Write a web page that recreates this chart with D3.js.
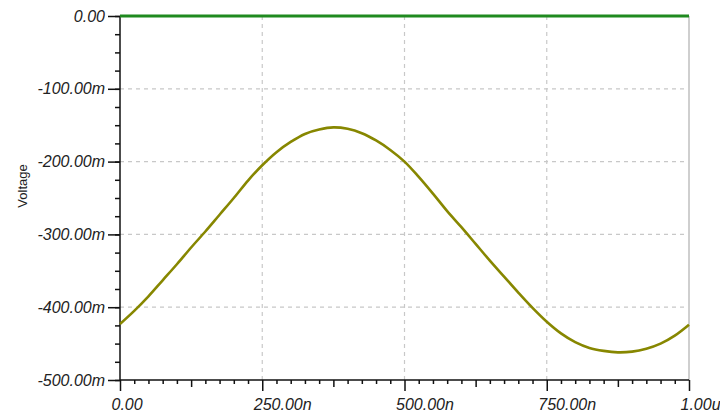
<!DOCTYPE html>
<html>
<head>
<meta charset="utf-8">
<script src="https://cdn.jsdelivr.net/npm/d3@7"></script>
<style>
  html, body { margin: 0; padding: 0; background: #fff; }
  svg { display: block; }
  text { font-family: "Liberation Sans", Arial, sans-serif; fill: #222; }
</style>
</head>
<body>
<svg id="chart" width="720" height="415"></svg>
<script>
// ---- data (time in ns, voltage in mV) ----
const timeNs = [0, 25, 50, 75, 100, 125, 150, 175, 200, 225, 250, 275, 300, 325, 350, 375,
  400, 425, 450, 475, 500, 525, 550, 575, 600, 625, 650, 675, 700, 725, 750, 775, 800,
  825, 850, 875, 900, 925, 950, 975, 1000];
const voltageMv = [-423, -405, -385, -363, -341, -318, -296, -273, -250, -226, -205, -187,
  -173, -162, -156, -153, -155, -161, -171, -184, -200, -221, -244, -268, -290, -313, -336,
  -358, -380, -401, -420, -436, -448, -456, -460, -462, -461, -457, -450, -439, -424];
const zeroTraceT = [0, 1000];
const zeroTraceV = [0, 0];
const yTicks = [0, -100, -200, -300, -400, -500];
const yTickLabels = ["0.00", "-100.00m", "-200.00m", "-300.00m", "-400.00m", "-500.00m"];
const xTicks = [0, 250, 500, 750, 1000];
const xTickLabels = ["0.00", "250.00n", "500.00n", "750.00n", "1.00u"];
const yAxisTitle = "Voltage";

// ---- layout ----
const svg = d3.select("#chart");
const L = 120, R = 689, T = 16, B = 380;
const x = d3.scaleLinear().domain([0, 1000]).range([L, R]);
const y = d3.scaleLinear().domain([-500, 0]).range([B, T]);

// grid
const g = svg.append("g");
g.selectAll("line.hg").data(yTicks.filter(v => v !== 0 && v !== -500)).enter()
  .append("line").attr("x1", L).attr("x2", R)
  .attr("y1", d => y(d)).attr("y2", d => y(d))
  .attr("stroke", "#c8c8c8").attr("stroke-width", 1.2).attr("stroke-dasharray", "4,4");
g.selectAll("line.vg").data(xTicks.filter(v => v !== 0 && v !== 1000)).enter()
  .append("line").attr("y1", T).attr("y2", B)
  .attr("x1", d => x(d)).attr("x2", d => x(d))
  .attr("stroke", "#c8c8c8").attr("stroke-width", 1.2).attr("stroke-dasharray", "4,4");
// right border
g.append("line").attr("x1", R).attr("x2", R).attr("y1", T).attr("y2", B)
  .attr("stroke", "#cfcfcf").attr("stroke-width", 2);

// y axis: minor ticks then majors
const yMinor = d3.range(-500, 1, 25);
const yAxisMinor = d3.axisLeft(y).tickValues(yMinor).tickSize(5).tickFormat("");
const yAx = svg.append("g").attr("transform", `translate(${L},0)`);
yAx.call(yAxisMinor);
yAx.select(".domain").remove();
const yAxisMajor = d3.axisLeft(y).tickValues(yTicks).tickSize(12).tickPadding(3)
  .tickFormat((d, i) => yTickLabels[i]);
const yAx2 = svg.append("g").attr("transform", `translate(${L},0)`).call(yAxisMajor);
yAx2.select(".domain").remove();
svg.selectAll("g.tick line").attr("stroke", "#111").attr("stroke-width", 1.5);
yAx2.selectAll("text").attr("font-size", 16).attr("font-style", "italic")
  .attr("font-family", "Liberation Sans, Arial, sans-serif").attr("fill", "#222");

// x axis
const xMinor = d3.range(0, 1001, 25).filter(v => v % 125 !== 0);
const xMid = d3.range(0, 1001, 125).filter(v => v % 250 !== 0);
const xAx = svg.append("g").attr("transform", `translate(0,${B})`);
xAx.call(d3.axisBottom(x).tickValues(xMinor).tickSize(4).tickFormat(""));
xAx.select(".domain").remove();
const xAxM = svg.append("g").attr("transform", `translate(0,${B})`);
xAxM.call(d3.axisBottom(x).tickValues(xMid).tickSize(7).tickFormat(""));
xAxM.select(".domain").remove();
const xAx2 = svg.append("g").attr("transform", `translate(0,${B})`);
xAx2.call(d3.axisBottom(x).tickValues(xTicks).tickSize(11).tickPadding(8)
  .tickFormat((d, i) => xTickLabels[i]));
xAx2.select(".domain").remove();
xAx2.selectAll("text").attr("font-size", 16).attr("font-style", "italic")
  .attr("text-anchor", "start").attr("x", -9)
  .attr("font-family", "Liberation Sans, Arial, sans-serif").attr("fill", "#222");
svg.selectAll("g.tick line").attr("stroke", "#111").attr("stroke-width", 1.5);

// axis lines
svg.append("line").attr("x1", L).attr("x2", L).attr("y1", T).attr("y2", B)
  .attr("stroke", "#111").attr("stroke-width", 1.5);
svg.append("line").attr("x1", L).attr("x2", R).attr("y1", B).attr("y2", B)
  .attr("stroke", "#111").attr("stroke-width", 1.5);

// y title
svg.append("text").attr("transform", `translate(27,186) rotate(-90)`)
  .attr("text-anchor", "middle").attr("font-size", 13).text(yAxisTitle);

// traces
const line = d3.line().x(d => x(d[0])).y(d => y(d[1]));
svg.append("path").datum(timeNs.map((t, i) => [t, voltageMv[i]]))
  .attr("d", line.curve(d3.curveCatmullRom)).attr("fill", "none")
  .attr("stroke", "#878700").attr("stroke-width", 2.6);
svg.append("path").datum(zeroTraceT.map((t, i) => [t, zeroTraceV[i]]))
  .attr("d", d3.line().x(d => x(d[0])).y(d => y(d[1])))
  .attr("fill", "none").attr("stroke", "#1f8a1f").attr("stroke-width", 3);
</script>
</body>
</html>
